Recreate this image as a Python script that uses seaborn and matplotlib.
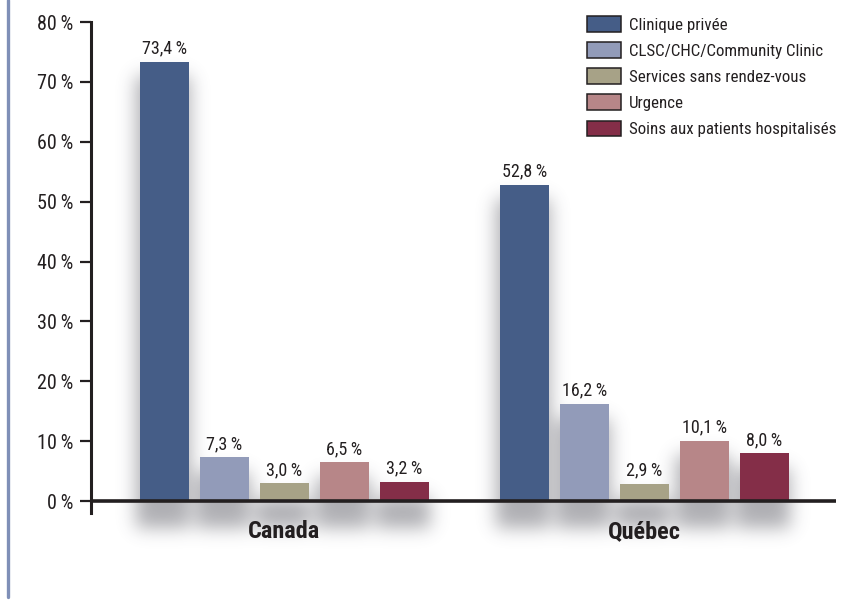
import numpy as np
import pandas as pd
import matplotlib
matplotlib.use("Agg")
import matplotlib.pyplot as plt
import seaborn as sns
from matplotlib.patches import Patch, Rectangle
from matplotlib.lines import Line2D

# Data
regions = ["Canada", "Québec"]
settings = [
    "Clinique privée",
    "CLSC/CHC/Community Clinic",
    "Services sans rendez-vous",
    "Urgence",
    "Soins aux patients hospitalisés",
]
canada_pct = [73.4, 7.3, 3.0, 6.5, 3.2]
quebec_pct = [52.8, 16.2, 2.9, 10.1, 8.0]
y_ticks = [0, 10, 20, 30, 40, 50, 60, 70, 80]
colors = ["#455D87", "#929BB9", "#A7A287", "#B78688", "#842E48"]

df = pd.DataFrame({
    "region": [r for r in regions for _ in settings],
    "setting": settings * len(regions),
    "pct": canada_pct + quebec_pct,
})

INK = "#231F20"
THIN = "\u2009"

sns.set_theme(style="white")
plt.rcParams["font.family"] = ["Roboto Condensed", "Open Sans Condensed",
                               "Liberation Sans Narrow", "DejaVu Sans"]
plt.rcParams["font.stretch"] = "condensed"
plt.rcParams["text.color"] = INK

W, H = 864, 600
fig = plt.figure(figsize=(W / 100, H / 100), dpi=100)
ax = fig.add_axes([91 / W, 1 - 513 / H, (836 - 91) / W, (513 - 22) / H])
ax.set_facecolor("none")

sns.barplot(
    data=df, x="region", y="pct", hue="setting",
    order=regions, hue_order=settings, palette=colors,
    width=300 / 360, gap=0.18, saturation=1, legend=False,
    linewidth=0, edgecolor="none", ax=ax, zorder=3,
)

ax.set_xlim(-0.5375, 1.532)
ax.set_ylim(-2, 80)

# Value labels
for cont in ax.containers:
    labels = [f"{v:.1f}".replace(".", ",") + THIN + "%" for v in cont.datavalues]
    ax.bar_label(cont, labels=labels, padding=3, fontsize=13, color=INK)

# Axes styling
ax.set_yticks(y_ticks, labels=[f"{t}{THIN}%" for t in y_ticks])
ax.tick_params(axis="y", length=8, width=1.6, pad=5, colors=INK,
               labelsize=14.5, left=True, direction="out")
ax.tick_params(axis="x", length=0, pad=5)
for lab in ax.get_xticklabels():
    lab.set_fontsize(17.5)
    lab.set_fontweight("bold")
    lab.set_color(INK)
ax.set_xlabel("")
ax.set_ylabel("")
for side in ["top", "right", "bottom"]:
    ax.spines[side].set_visible(False)
ax.spines["left"].set_color(INK)
ax.spines["left"].set_linewidth(2.2)
ax.axhline(0, color=INK, lw=2.6, zorder=4)

# Legend
handles = [Patch(facecolor=c, edgecolor=INK, linewidth=1.1, label=s)
           for c, s in zip(colors, settings)]
fig.legend(handles=handles, loc="upper left",
           bbox_to_anchor=(587 / W, 1 - 16 / H), frameon=False,
           fontsize=12.2, handlelength=2.0, handleheight=1.05,
           handletextpad=0.45, labelspacing=0.56, borderpad=0,
           borderaxespad=0, labelcolor=INK)

# Left page rule
fig.add_artist(Line2D([7.5 / W, 7.5 / W], [3 / H, 1], transform=fig.transFigure,
                      color="#7F8FB7", lw=2.4))

# Soft drop shadow behind the bars
def blur(a, sigma):
    r = int(3 * sigma)
    k = np.exp(-0.5 * (np.arange(-r, r + 1) / sigma) ** 2)
    k /= k.sum()
    a = np.apply_along_axis(lambda v: np.convolve(v, k, mode="same"), 0, a)
    a = np.apply_along_axis(lambda v: np.convolve(v, k, mode="same"), 1, a)
    return a

mask = np.zeros((H, W))
for bar in ax.patches:
    if not isinstance(bar, Rectangle) or bar.get_height() <= 0:
        continue
    (x0, y0), (x1, y1) = ax.transData.transform(
        [(bar.get_x(), bar.get_y()),
         (bar.get_x() + bar.get_width(), bar.get_y() + bar.get_height())])
    mask[int(y0 - 26):int(y1 - 14), int(x0 - 3):int(x1 + 1)] = 1
shade = blur(mask, 9) * 0.45
img = np.zeros((H, W, 4))
img[..., 0] = 0.30
img[..., 1] = 0.30
img[..., 2] = 0.34
img[..., 3] = np.clip(shade, 0, 1)
fig.figimage(img, xo=0, yo=0, origin="lower", zorder=-1)

fig.savefig("out.png", dpi=100)
